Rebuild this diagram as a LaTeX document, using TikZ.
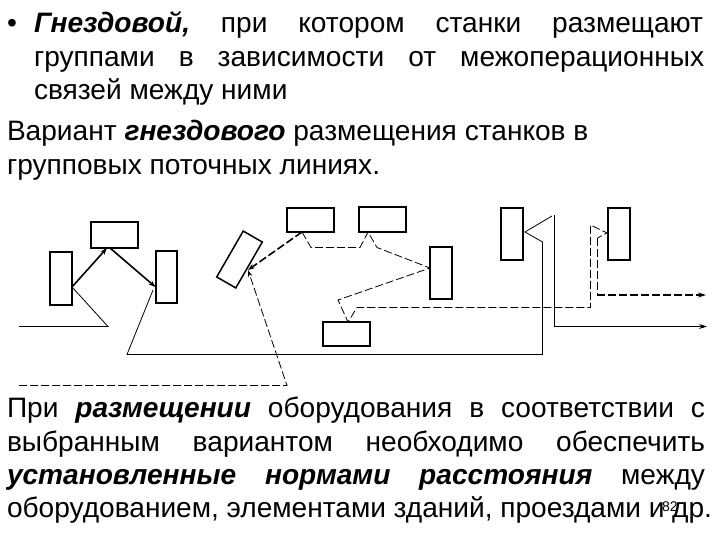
\documentclass[tikz,border=0pt]{standalone}
\usepackage{fontspec}
\setmainfont{Liberation Sans}
\usetikzlibrary{arrows.meta}
\newcommand{\fillline}[2]{\makebox[#1pt][s]{#2}}
\tikzset{
  x=1pt,y=-1pt,
  txt/.style={anchor=base west,inner sep=0pt,outer sep=0pt,font=\fontsize{28.1}{32}\selectfont,text=black},
  mach/.style={draw=black,line width=1.5pt,fill=white},
  machthick/.style={draw=black,line width=2.2pt,fill=white},
  thinl/.style={draw=black,line width=0.8pt},
  dashl/.style={draw=black,line width=0.8pt,dash pattern=on 8pt off 3pt},
  arr/.style={draw=black,line width=1.6pt,-{Stealth[length=7pt,width=5pt]}},
  arrd/.style={draw=black,line width=1.6pt,dash pattern=on 8pt off 3pt,-{Stealth[length=7pt,width=5pt]}},
  endarr/.style={-{Stealth[length=8pt,width=5pt]}}
}
\begin{document}
\begin{tikzpicture}
\useasboundingbox (0,0) rectangle (720,540);
% text
\node[txt] (b) at (7,32.5) {•};
\node[txt] (t1) at (34,32.5) {\fillline{669}{\textbf{\textit{Гнездовой,}}\hfill при\hfill котором\hfill станки\hfill размещают}};
\node[txt] (t2) at (34,66.5) {\fillline{670}{группами\hfill в\hfill зависимости\hfill от\hfill межоперационных}};
\node[txt] (t3) at (34,100) {связей между ними};
\node[txt] (t4) at (7,141) {Вариант \textbf{\textit{гнездового}} размещения станков в};
\node[txt] (t5) at (7,175) {групповых поточных линиях.};
\node[txt] (t6) at (7,417.5) {\fillline{698}{При\hfill \textbf{\textit{размещении}}\hfill оборудования\hfill в\hfill соответствии\hfill с}};
\node[txt] (t7) at (7,451) {\fillline{698}{выбранным\hfill вариантом\hfill необходимо\hfill обеспечить}};
\node[txt] (t8) at (7,484) {\fillline{698}{\textbf{\textit{установленные\hfill нормами\hfill расстояния}}\hfill между}};
\node[txt] (t9) at (7,517) {\fillline{705}{оборудованием,\hfill элементами\hfill зданий,\hfill проездами\hfill и\hfill др.}};
\node[anchor=base west,inner sep=0pt,font=\fontsize{14}{16}\selectfont] (pg) at (662,511) {82};
% machines
\node[mach,minimum width=22pt,minimum height=53pt,inner sep=0pt] (a) at (61,278.5) {};
\node[machthick,minimum width=47pt,minimum height=26pt,inner sep=0pt] (top) at (114.5,235) {};
\node[mach,minimum width=21pt,minimum height=52pt,inner sep=0pt] (c) at (166.5,277) {};
\node[mach,minimum width=22pt,minimum height=53pt,inner sep=0pt,rotate=-30] (tilt) at (239.5,259.5) {};
\node[mach,minimum width=47pt,minimum height=24pt,inner sep=0pt] (d) at (310.5,220) {};
\node[machthick,minimum width=47pt,minimum height=25pt,inner sep=0pt] (e) at (382.5,219.5) {};
\node[mach,minimum width=22pt,minimum height=52pt,inner sep=0pt] (f) at (441,273) {};
\node[mach,minimum width=47pt,minimum height=24pt,inner sep=0pt] (g) at (346.5,334) {};
\node[mach,minimum width=22pt,minimum height=52pt,inner sep=0pt] (h) at (512,234) {};
\node[mach,minimum width=22pt,minimum height=52pt,inner sep=0pt] (i) at (619,234) {};
% free ends
\coordinate (sa) at (19,326.5);
\coordinate (sb) at (19,385.5);
\coordinate (aP) at (72,287);
\coordinate (topP) at (107,248);
\coordinate (topQ) at (110,248);
\coordinate (cP) at (155.5,287);
\coordinate (tiltP) at (248,270);
\coordinate (dP) at (302,232);
\coordinate (eP) at (368,232);
\coordinate (fP) at (430,268);
\coordinate (gP) at (348,322);
\coordinate (hP) at (525,232);
\coordinate (iP) at (607,233);
\coordinate (endA) at (707,326.5);
\coordinate (endB) at (706,295);
% solid flows
\draw[thinl] (sa) -- (108,326.5) -- (aP);
\draw[arr] (aP) -- (topP);
\draw[arr] (topQ) -- (cP);
\draw[thinl] (153,290) -- (127,354.5) -- (542.5,354.5) -- (542.5,242) -- (hP) -- (552,216);
\draw[thinl,endarr] (554.5,215) -- (554.5,326.5) -- (endA);
% dashed flows
\draw[dashl,-{Stealth[length=7pt,width=4.5pt]}] (sb) -- (287,385.5) -- (tiltP);
\draw[arrd] (dP) -- (tiltP);
\draw[dashl] (dP) -- (311,247.5) -- (360,247.5) -- (eP) -- (377,247.5) -- (fP) -- (338,300) -- (gP) -- (357,307.5) -- (590.5,307.5) -- (590.5,225) -- (iP) -- (597.5,238);
\draw[dashl] (597.5,238) -- (597.5,295);
\draw[draw=black,line width=2pt,dash pattern=on 8pt off 3pt,endarr] (597,295) -- (endB);
\end{tikzpicture}
\end{document}
